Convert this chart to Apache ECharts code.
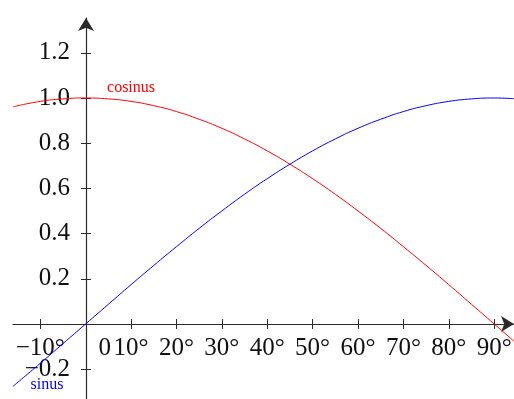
<!DOCTYPE html>
<html>
<head>
<meta charset="utf-8">
<script src="https://cdn.jsdelivr.net/npm/echarts@6/dist/echarts.min.js"></script>
<style>
  html, body { margin: 0; padding: 0; background: #fff; }
  #main { width: 514px; height: 399px; }
</style>
</head>
<body>
<div id="main"></div>
<script>
// values (angle in degrees)
var angles = [-16, -10, -5, 0, 5, 10, 15, 20, 25, 30, 35, 40, 45, 50, 55, 60, 65, 70, 75, 80, 85, 90, 94.4];
var cosValues = [0.961, 0.985, 0.996, 1.0, 0.996, 0.985, 0.966, 0.940, 0.906, 0.866, 0.819, 0.766, 0.707,
                 0.643, 0.574, 0.500, 0.423, 0.342, 0.259, 0.174, 0.087, 0.0, -0.077];
var sinValues = [-0.276, -0.174, -0.087, 0.0, 0.087, 0.174, 0.259, 0.342, 0.423, 0.500, 0.574, 0.643, 0.707,
                 0.766, 0.819, 0.866, 0.906, 0.940, 0.966, 0.985, 0.996, 1.0, 0.997];
var xTicks = [-10, 10, 20, 30, 40, 50, 60, 70, 80, 90];
var xLabels = [-10, 0, 10, 20, 30, 40, 50, 60, 70, 80, 90];
var yTicks = [-0.2, 0.2, 0.4, 0.6, 0.8, 1.0, 1.2];

var xMin = -16, xMax = 94.36, yMin = -0.332, yMax = 1.354;
var gridLeft = 13, gridTop = 18;
// the axes cross at 0, so move each axis from the grid edge to the zero line
var xOff = -Math.round((0 - yMin) / (yMax - yMin) * (399 - gridTop));
var yOff = -Math.round((0 - xMin) / (xMax - xMin) * (514 - gridLeft));

var myChart = echarts.init(document.getElementById('main'));

var axisColor = '#2a2a2a';
var labelFont = { fontFamily: 'Liberation Serif', fontSize: 25, color: '#111' };

function pairs(xs, ys) {
    return xs.map(function (x, i) { return [x, ys[i]]; });
}
function minus(s) { return s.replace('-', '\u2212'); }

var option = {
    animation: false,
    grid: { left: gridLeft, right: 0, top: gridTop, bottom: 0, containLabel: false, outerBoundsMode: 'none' },
    xAxis: [
        {
            type: 'value', min: xMin, max: xMax, position: 'bottom', offset: xOff,
            axisLine: { onZero: false, symbol: ['none', 'arrow'], symbolSize: [12, 13],
                        lineStyle: { color: axisColor, width: 1.2 } },
            axisTick: { show: true, inside: false, length: 5, customValues: xTicks,
                        lineStyle: { color: axisColor } },
            axisLabel: {
                customValues: xLabels, margin: 12,
                fontFamily: labelFont.fontFamily, fontSize: labelFont.fontSize, color: labelFont.color,
                formatter: function (v) {
                    if (v === 0) return '{z|0}';
                    return minus(String(v)) + '°';
                },
                rich: { z: { padding: [0, 0, 0, 38], fontFamily: labelFont.fontFamily,
                             fontSize: labelFont.fontSize, color: labelFont.color } }
            },
            splitLine: { show: false }
        },
        {
            type: 'value', min: xMin, max: xMax, position: 'bottom', offset: xOff,
            axisLine: { onZero: false, show: false },
            axisTick: { show: true, inside: true, length: 5, customValues: xTicks,
                        lineStyle: { color: axisColor } },
            axisLabel: { show: false },
            splitLine: { show: false }
        }
    ],
    yAxis: [
        {
            type: 'value', min: yMin, max: yMax, position: 'left', offset: yOff,
            axisLine: { onZero: false, symbol: ['none', 'arrow'], symbolSize: [12, 13],
                        lineStyle: { color: axisColor, width: 1.2 } },
            axisTick: { show: true, inside: false, length: 5, customValues: yTicks,
                        lineStyle: { color: axisColor } },
            axisLabel: {
                customValues: yTicks, margin: 16,
                fontFamily: labelFont.fontFamily, fontSize: labelFont.fontSize, color: labelFont.color,
                formatter: function (v) { return minus(v.toFixed(1)); }
            },
            splitLine: { show: false }
        },
        {
            type: 'value', min: yMin, max: yMax, position: 'left', offset: yOff,
            axisLine: { onZero: false, show: false },
            axisTick: { show: true, inside: true, length: 5, customValues: yTicks,
                        lineStyle: { color: axisColor } },
            axisLabel: { show: false },
            splitLine: { show: false }
        }
    ],
    series: [
        {
            name: 'cosinus', type: 'line', smooth: true, showSymbol: false,
            data: pairs(angles, cosValues),
            lineStyle: { color: '#ff0000', width: 1 },
            itemStyle: { color: '#ff0000' },
            markPoint: {
                symbol: 'circle', symbolSize: 0,
                label: { show: true, position: 'inside', formatter: 'cosinus', color: '#ff0000',
                         fontFamily: 'Liberation Serif', fontSize: 16 },
                data: [{ coord: [10.0, 1.044] }]
            }
        },
        {
            name: 'sinus', type: 'line', smooth: true, showSymbol: false,
            data: pairs(angles, sinValues),
            lineStyle: { color: '#0000ff', width: 1 },
            itemStyle: { color: '#0000ff' },
            markPoint: {
                symbol: 'circle', symbolSize: 0,
                label: { show: true, position: 'inside', formatter: 'sinus', color: '#0000ff',
                         fontFamily: 'Liberation Serif', fontSize: 16 },
                data: [{ coord: [-8.5, -0.27] }]
            }
        }
    ]
};

myChart.setOption(option);
</script>
</body>
</html>
